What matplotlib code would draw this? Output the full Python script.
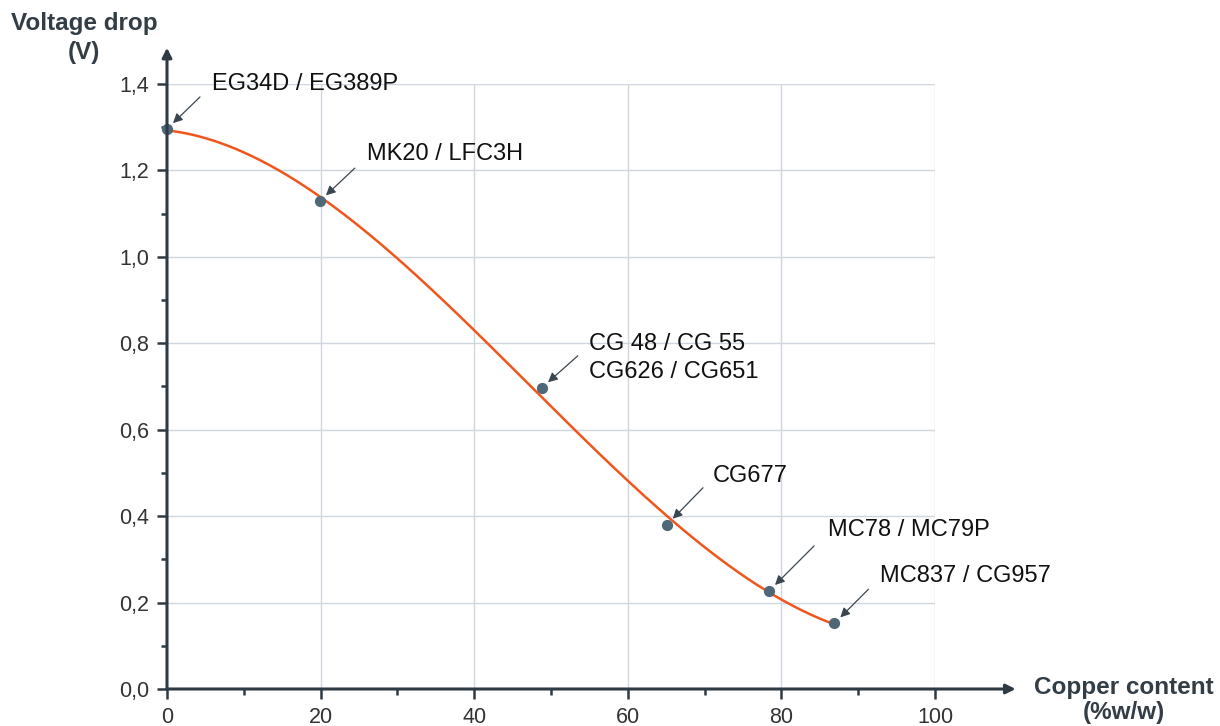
import numpy as np
import matplotlib
matplotlib.use('Agg')
from matplotlib import pyplot as plt

plt.rcParams['font.family'] = ['Liberation Sans', 'DejaVu Sans']

# data
copper = [0, 19.9, 48.8, 65.1, 78.4, 86.9]
vdrop = [1.296, 1.129, 0.697, 0.38, 0.227, 0.152]
names = ['EG34D / EG389P', 'MK20 / LFC3H', 'CG 48 / CG 55\nCG626 / CG651',
         'CG677', 'MC78 / MC79P', 'MC837 / CG957']
xticks = [0, 20, 40, 60, 80, 100]
yticks = [0.0, 0.2, 0.4, 0.6, 0.8, 1.0, 1.2, 1.4]

# label / arrow offsets in pixels (text dx, dy ; arrow tail dx, dy)
txt_off = [(45, 45), (47, 47), (47, 30), (46, 49), (59, 61), (46, 47)]
tail_off = [(33, 32), (35, 33), (36, 32), (36, 37), (45, 45), (34, 34)]

axis_col = '#2e3a44'
grid_col = '#cfd6dd'
dot_col = '#4f6878'
line_col = '#f0561c'

fig = plt.figure(figsize=(12.2, 7.26), dpi=100)
ax = fig.add_axes([167/1220, 37/726, (935-167)/1220, (689-84)/726])
ax.set_xlim(0, 100)
ax.set_ylim(0, 1.4)

for s in ax.spines.values():
	s.set_visible(False)

# grid
for x in xticks[1:]:
	ax.axvline(x, color=grid_col, lw=1, zorder=0)
for y in yticks[1:]:
	ax.axhline(y, color=grid_col, lw=1, zorder=0)

# trend curve (cubic fit of the points)
c = np.polyfit(copper, vdrop, 3)
xx = np.linspace(0, copper[-1], 300)
ax.plot(xx, np.polyval(c, xx), color=line_col, lw=1.8, zorder=2, clip_on=False)
ax.scatter(copper, vdrop, s=50, color=dot_col, zorder=3, clip_on=False)

# axes with arrows
ax.annotate('', xy=(0, 1.06), xycoords='axes fraction', xytext=(0, 0),
            arrowprops=dict(arrowstyle='-|>', color=axis_col, lw=2.2,
                            mutation_scale=14, shrinkA=0, shrinkB=0))
ax.annotate('', xy=(1.105, 0), xycoords='axes fraction', xytext=(0, 0),
            arrowprops=dict(arrowstyle='-|>', color=axis_col, lw=2.2,
                            mutation_scale=14, shrinkA=0, shrinkB=0))

ax.set_xticks(xticks)
ax.set_yticks(yticks)
ax.set_xticks(range(10, 100, 20), minor=True)
ax.set_yticks(np.arange(0.1, 1.4, 0.2), minor=True)
ax.set_yticklabels([('%.1f' % v).replace('.', ',') for v in yticks])
ax.tick_params(which='both', direction='out', color=axis_col, width=1.8,
               labelsize=15.5, labelcolor='#333333', pad=6)
ax.tick_params(which='major', length=7)
ax.tick_params(which='minor', length=4)

fig.text(84/1220, 1 - 38/726, 'Voltage drop\n(V)', ha='center', va='center',
         fontsize=17.5, fontweight='bold', color='#333d45', linespacing=1.32)
fig.text(1124/1220, 1 - 700/726, 'Copper content\n(%w/w)', ha='center', va='center',
         fontsize=17.5, fontweight='bold', color='#333d45', linespacing=1.1)

for i in range(len(names)):
	p = (copper[i], vdrop[i])
	ax.annotate(names[i], xy=p, xytext=txt_off[i], textcoords='offset pixels',
	            ha='left', va='center', fontsize=17, color='#111111',
	            linespacing=1.38)
	ax.annotate('', xy=p, xytext=tail_off[i], textcoords='offset pixels',
	            arrowprops=dict(arrowstyle='-|>', color='#3a4650', lw=0.9,
	                            mutation_scale=14, shrinkA=0, shrinkB=6))

fig.savefig('out.png', dpi=100)
